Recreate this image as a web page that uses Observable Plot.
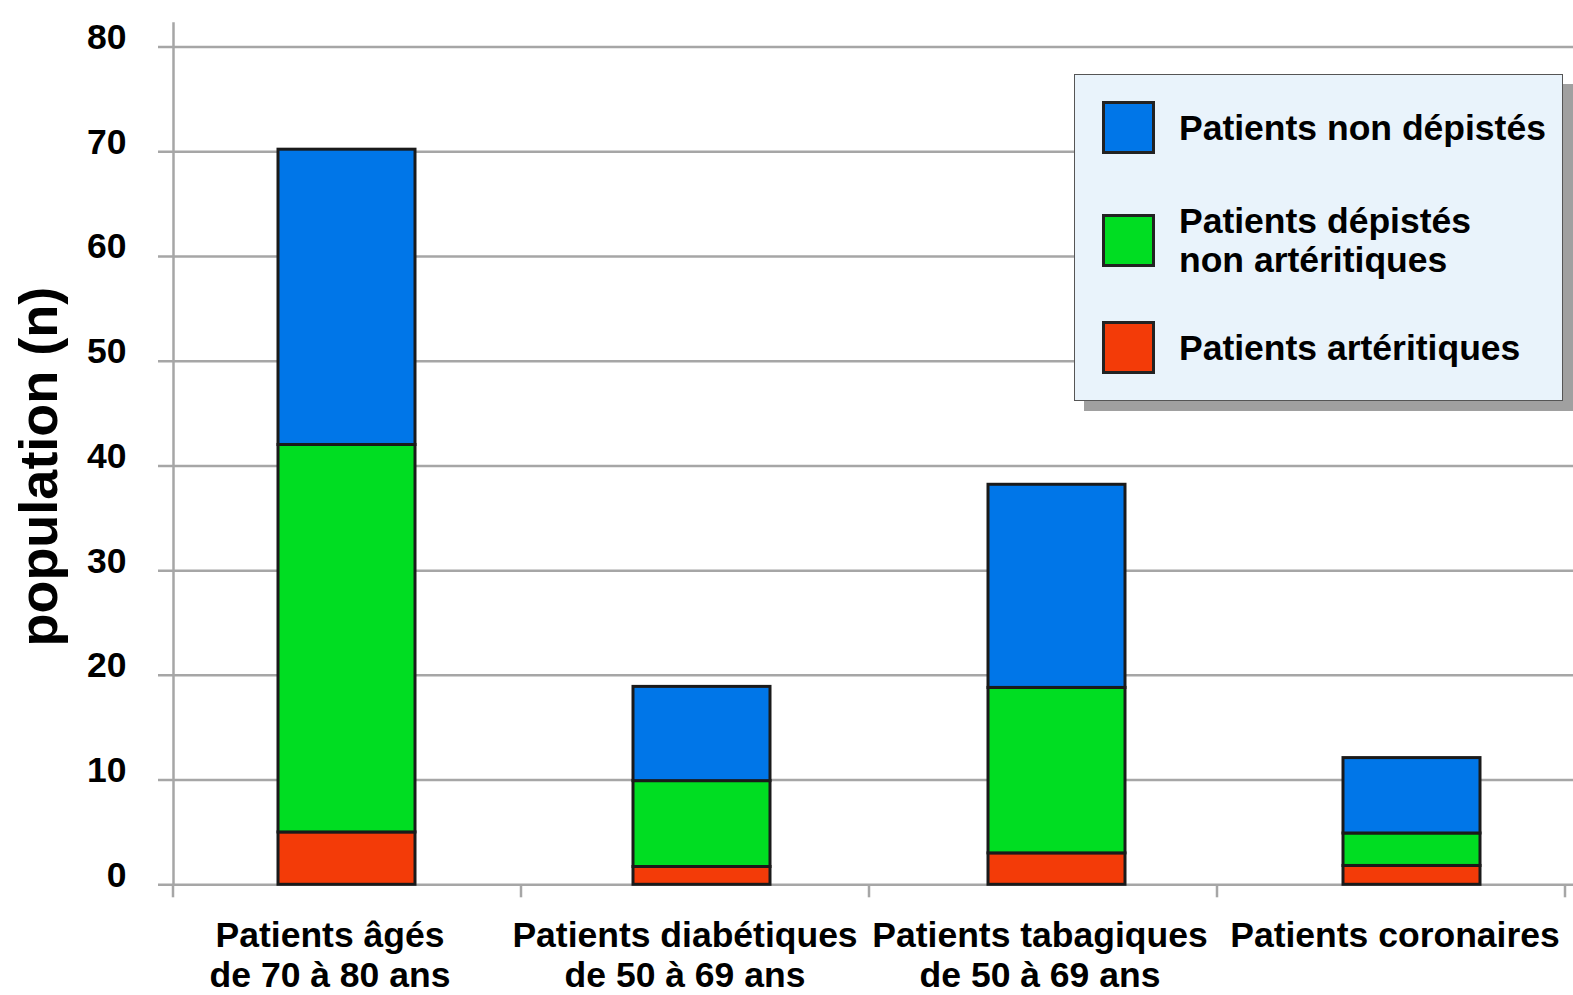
<!DOCTYPE html>
<html>
<head>
<meta charset="utf-8">
<script src="https://cdn.jsdelivr.net/npm/d3@7"></script>
<script src="https://cdn.jsdelivr.net/npm/@observablehq/plot@0.6"></script>
<style>
  html, body { margin: 0; padding: 0; background: #fff; overflow: hidden; }
  #wrap { position: relative; width: 1573px; height: 995px; font-family: "Liberation Sans", Arial, sans-serif; }
  #legend { position: absolute; left: 1074px; top: 74px; width: 487px; height: 325px; background: #e9f3fb; border: 1px solid #555; box-shadow: 10px 10px 0 #a0a0a0; }
  .sw { position: absolute; left: 27px; width: 47px; height: 47px; border: 3px solid #222; }
  .lt { position: absolute; left: 104px; font-size: 35.5px; font-weight: bold; line-height: 39px; white-space: nowrap; color: #000; }
</style>
</head>
<body>
<div id="wrap"></div>
<script>
const categories = ["Patients âgés de 70 à 80 ans", "Patients diabétiques de 50 à 69 ans", "Patients tabagiques de 50 à 69 ans", "Patients coronaires"];
const tickLabels = ["Patients âgés\nde 70 à 80 ans", "Patients diabétiques\nde 50 à 69 ans", "Patients tabagiques\nde 50 à 69 ans", "Patients coronaires"];
const series = ["Patients artéritiques", "Patients dépistés non artéritiques", "Patients non dépistés"];
const legendLabels = ["Patients non dépistés", "Patients dépistés\nnon artéritiques", "Patients artéritiques"];
const colors = ["#f33b08", "#00dd22", "#0076e8"];
const arteritiques = [5, 1.7, 3, 1.8];
const depistesNonArteritiques = [37, 8.2, 15.8, 3.1];
const nonDepistes = [28.2, 9.0, 19.4, 7.2];
const yTicks = [0, 10, 20, 30, 40, 50, 60, 70, 80];

const seriesValues = [arteritiques, depistesNonArteritiques, nonDepistes];
const rows = [];
categories.forEach((c, i) => {
  series.forEach((s, j) => rows.push({category: c, series: s, value: seriesValues[j][i]}));
});

const gray = "#a6a6a6";
const plot = Plot.plot({
  width: 1573,
  height: 995,
  marginLeft: 173,
  marginRight: 8,
  marginTop: 23,
  marginBottom: 110.7,
  style: {fontFamily: "'Liberation Sans', Arial, sans-serif", background: "white", overflow: "visible"},
  x: {domain: categories, paddingInner: 0.6127, paddingOuter: 0.2669, align: 0.5557, axis: null},
  y: {domain: [0, 82.25], axis: null},
  color: {domain: series, range: colors},
  marks: [
    Plot.ruleY(yTicks, {stroke: gray, strokeWidth: 2.5, insetLeft: -15, insetRight: -8}),
    Plot.frame({anchor: "left", stroke: gray, strokeWidth: 2.5}),
    Plot.barY(rows, Plot.stackY({x: "category", y: "value", fill: "series", stroke: "#1a1a1a", strokeWidth: 3})),
    Plot.text(yTicks, {y: d => d, frameAnchor: "left", dx: -47, dy: 2, textAnchor: "end", lineAnchor: "bottom", fontSize: 35.5, fontWeight: "bold", fill: "#000"}),
    Plot.text(categories, {x: d => d, text: (d, i) => tickLabels[i], frameAnchor: "bottom", lineAnchor: "top", dx: -17, dy: 34, fontSize: 35.5, fontWeight: "bold", lineHeight: 1.13, fill: "#000"})
  ]
});

// evenly spaced category boundary ticks along the x range
const xs = plot.scale("x");
const ys = plot.scale("y");
const y0 = ys.apply(0);
const [r0, r1] = xs.range;
const bounds = d3.range(categories.length + 1).map(k => r0 + k * (r1 - r0) / categories.length);
const svg = d3.select(plot);
svg.append("g").selectAll("line").data(bounds).join("line")
  .attr("x1", d => d).attr("x2", d => d)
  .attr("y1", y0).attr("y2", y0 + 13)
  .attr("stroke", gray).attr("stroke-width", 2.5);

// y-axis title
svg.append("text")
  .attr("transform", `translate(57, ${(ys.apply(0) + ys.apply(82.25)) / 2 + 13}) rotate(-90)`)
  .attr("text-anchor", "middle")
  .attr("font-size", 54)
  .attr("font-weight", "bold")
  .attr("fill", "#000")
  .text("population (n)");

const wrap = document.getElementById("wrap");
wrap.appendChild(plot);

// legend
const legend = document.createElement("div");
legend.id = "legend";
const swTops = [26, 139, 246];
const txtTops = [34, 127, 254];
const legendColors = [colors[2], colors[1], colors[0]];
legendLabels.forEach((lab, i) => {
  const sw = document.createElement("div");
  sw.className = "sw";
  sw.style.top = swTops[i] + "px";
  sw.style.background = legendColors[i];
  legend.appendChild(sw);
  const t = document.createElement("div");
  t.className = "lt";
  t.style.top = txtTops[i] + "px";
  t.innerHTML = lab.split("\n").join("<br>");
  legend.appendChild(t);
});
wrap.appendChild(legend);
</script>
</body>
</html>
